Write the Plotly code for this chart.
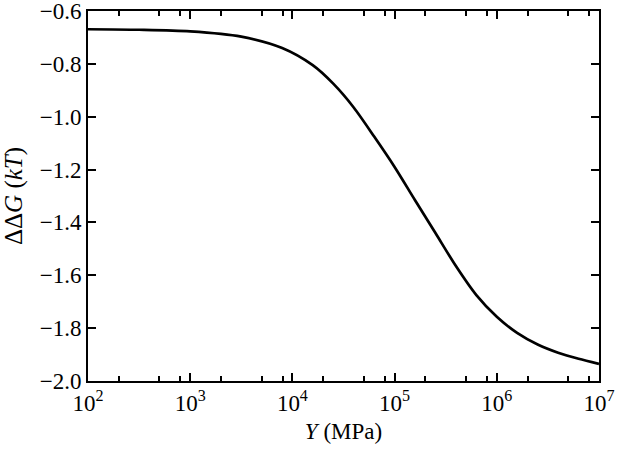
import plotly.graph_objects as go

# modulus Y (MPa) and free energy change (kT)
y_mod = [1e2, 3.16e2, 1e3, 3.16e3, 7.94e3, 1.58e4, 2.51e4, 3.98e4, 6.31e4, 1e5,
         1.58e5, 2.51e5, 3.98e5, 6.31e5, 1e6, 1.58e6, 2.51e6, 3.98e6, 6.31e6, 1e7]
ddg = [-0.669, -0.671, -0.677, -0.697, -0.740, -0.805, -0.875, -0.965, -1.075, -1.190,
       -1.315, -1.440, -1.565, -1.675, -1.757, -1.818, -1.862, -1.893, -1.916, -1.935]

x_major = [1e2, 1e3, 1e4, 1e5, 1e6, 1e7]
x_labels = ["10<sup>2</sup>", "10<sup>3</sup>", "10<sup>4</sup>",
            "10<sup>5</sup>", "10<sup>6</sup>", "10<sup>7</sup>"]
x_minor = [m * 10 ** e for e in range(2, 7) for m in (2, 5, 8)]
y_major = [-2.0, -1.8, -1.6, -1.4, -1.2, -1.0, -0.8, -0.6]

font = dict(family="Liberation Serif", size=23, color="black")
title_font = dict(family="Liberation Serif", size=25, color="black")

fig = go.Figure()
fig.add_trace(go.Scatter(x=y_mod, y=ddg, mode="lines",
                         line=dict(color="black", width=2.7, shape="spline", smoothing=0.8),
                         showlegend=False))

fig.update_layout(
    template="none",
    width=618, height=453,
    margin=dict(l=88, r=19, t=11, b=72),
    paper_bgcolor="white", plot_bgcolor="white",
    font=font,
    xaxis=dict(type="log", range=[2, 7], tickmode="array", tickvals=x_major, ticktext=x_labels,
               tickfont=font,
               ticks="inside", ticklen=8, tickwidth=1.5, tickcolor="black",
               ticklabeloverflow="allow",
               minor=dict(tickmode="array", tickvals=x_minor, ticks="inside", ticklen=5,
                          tickwidth=1.5, tickcolor="black"),
               showline=True, linecolor="black", linewidth=2, mirror="ticks",
               showgrid=False, zeroline=False,
               title=dict(text="<i>Y</i> (MPa)", font=font, standoff=8)),
    yaxis=dict(range=[-2.0, -0.6], tickmode="array", tickvals=y_major,
               ticktext=[f"{v:.1f}".replace("-", "\u2212") for v in y_major],
               tickfont=font,
               ticks="inside", ticklen=8, tickwidth=1.5, tickcolor="black",
               ticklabeloverflow="allow",
               showline=True, linecolor="black", linewidth=2, mirror="ticks",
               showgrid=False, zeroline=False,
               title=dict(text="\u0394\u0394<i>G</i> (<i>kT</i>)", font=title_font, standoff=10)),
)

fig.write_html("out.html", config={"displayModeBar": False},
               post_script="document.body.style.margin='0';")
